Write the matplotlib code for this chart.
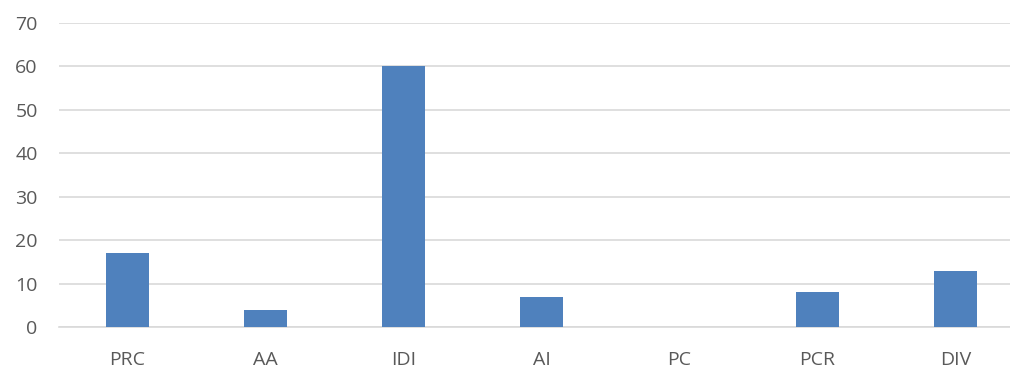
import matplotlib
matplotlib.use("Agg")
import matplotlib.pyplot as plt

categories = ["PRC", "AA", "IDI", "AI", "PC", "PCR", "DIV"]
values = [17, 4, 60, 7, 0, 8, 13]
y_ticks = [0, 10, 20, 30, 40, 50, 60, 70]

plt.rcParams["font.family"] = ["Open Sans", "DejaVu Sans"]

W, H = 1010, 367
fig = plt.figure(figsize=(W / 100, H / 100), dpi=100)
# plot area runs a little past the right edge of the canvas
ax = fig.add_axes([58.5 / W, 1 - 327 / H, 966 / W, 304 / H])

x = range(len(categories))
ax.bar(x, values, width=0.31, color="#4F81BD", zorder=3)

ax.set_xlim(-0.5, len(categories) - 0.5)
ax.set_ylim(0, 70)
ax.set_yticks(y_ticks)
ax.set_xticks(list(x))
ax.set_xticklabels(categories)

ax.grid(axis="y", color="#D9D9D9", linewidth=1.2, zorder=0)
for side in ["top", "right", "left"]:
    ax.spines[side].set_visible(False)
ax.spines["bottom"].set_color("#D9D9D9")
ax.spines["bottom"].set_linewidth(1.2)

ax.tick_params(axis="both", length=0, labelsize=14, colors="#595959")
ax.tick_params(axis="y", pad=15)
ax.tick_params(axis="x", pad=17)
for lbl in ax.get_yticklabels():
    lbl.set_horizontalalignment("right")

fig.savefig("out.png", dpi=100, facecolor="white")
